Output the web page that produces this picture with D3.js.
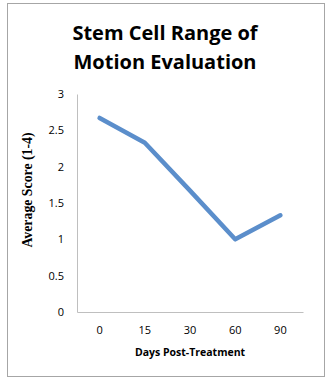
<!DOCTYPE html>
<html>
<head>
<meta charset="utf-8">
<script src="https://cdn.jsdelivr.net/npm/d3@7"></script>
<style>
  body { margin: 0; background: #fff; }
  svg { display: block; }
</style>
</head>
<body>
<div id="container"></div>
<script>
const days = ['0', '15', '30', '60', '90'];
const scores = [2.67, 2.33, 1.67, 1.0, 1.33];
const yTicks = [0, 0.5, 1, 1.5, 2, 2.5, 3];
const titleLines = ['Stem Cell Range of', 'Motion Evaluation'];

const W = 328, H = 385;
const plot = { left: 77, right: 303, top: 94, bottom: 312 };

const svg = d3.select('#container')
    .append('svg')
    .attr('width', W)
    .attr('height', H);

// chart frame
svg.append('rect')
    .attr('x', 7.5)
    .attr('y', 3.5)
    .attr('width', 317)
    .attr('height', 373)
    .attr('fill', '#fff')
    .attr('stroke', '#a6a6a6')
    .attr('stroke-width', 1);

const x = d3.scaleBand().domain(days).range([plot.left, plot.right]);
const y = d3.scaleLinear().domain([0, 3]).range([plot.bottom, plot.top]);

// title
svg.append('text')
    .attr('x', 165)
    .attr('text-anchor', 'middle')
    .attr('font-family', 'Open Sans, sans-serif')
    .attr('font-weight', 'bold')
    .attr('font-size', 20)
    .attr('fill', '#000')
    .selectAll('tspan')
    .data(titleLines).enter()
    .append('tspan')
    .attr('x', 165)
    .attr('y', (d, i) => 40 + i * 29)
    .text(d => d);

// axes
const yAxis = svg.append('g')
    .attr('transform', `translate(${plot.left},0)`)
    .call(d3.axisLeft(y).tickValues(yTicks).tickSize(0).tickPadding(13).tickFormat(d3.format('')));
yAxis.select('.domain').attr('stroke', '#bfbfbf');
yAxis.selectAll('text')
    .attr('font-family', 'Open Sans, sans-serif')
    .attr('font-size', 11)
    .attr('fill', '#000');

const xAxis = svg.append('g')
    .attr('transform', `translate(0,${plot.bottom})`)
    .call(d3.axisBottom(x).tickSize(0).tickPadding(14));
xAxis.select('.domain').attr('stroke', '#bfbfbf');
xAxis.selectAll('text')
    .attr('font-family', 'Open Sans, sans-serif')
    .attr('font-size', 11)
    .attr('fill', '#000');

// axis titles
svg.append('text')
    .attr('x', 190)
    .attr('y', 356)
    .attr('text-anchor', 'middle')
    .attr('font-family', 'Open Sans, sans-serif')
    .attr('font-weight', 'bold')
    .attr('font-size', 10.5)
    .text('Days Post-Treatment');

svg.append('text')
    .attr('transform', 'translate(32,190) rotate(-90)')
    .attr('text-anchor', 'middle')
    .attr('font-family', 'Liberation Serif, serif')
    .attr('font-weight', 'bold')
    .attr('font-size', 13.8)
    .text('Average Score (1-4)');

// series line
const line = d3.line()
    .x((d, i) => x(days[i]) + x.bandwidth() / 2)
    .y(d => y(d));

svg.append('path')
    .datum(scores)
    .attr('d', line)
    .attr('fill', 'none')
    .attr('stroke', '#5b8ecb')
    .attr('stroke-width', 4.5)
    .attr('stroke-linecap', 'round')
    .attr('stroke-linejoin', 'round');
</script>
</body>
</html>
